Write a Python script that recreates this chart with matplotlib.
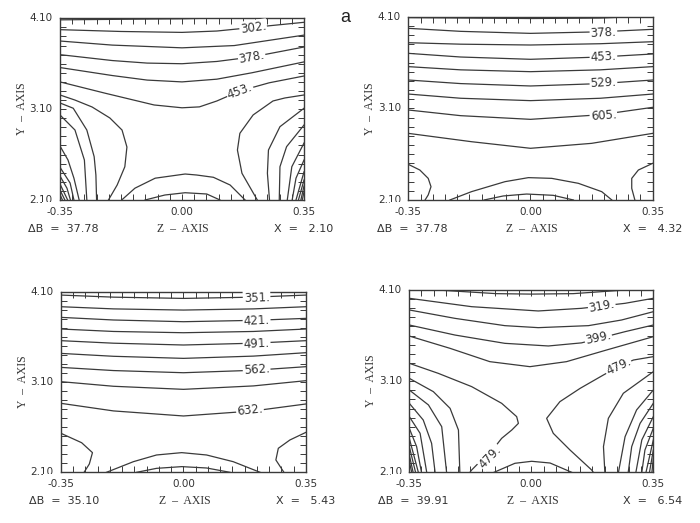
import matplotlib
matplotlib.use("Agg")
import matplotlib.pyplot as plt
from matplotlib.ticker import MultipleLocator

LINE = "#3a3a3a"
TEXT = "#333333"

# ---- panel a1 : X = 2.10, dB = 37.78 ----
p1_top = [
    [(-0.35, 4.083), (-0.15, 4.09), (0.0, 4.095), (0.06, 4.10)],
    [(-0.35, 3.975), (-0.175, 3.955), (0.0, 3.945), (0.1, 3.96), (0.204, 4.0), (0.35, 4.056)],
    [(-0.35, 3.85), (-0.2, 3.805), (0.0, 3.775), (0.15, 3.80), (0.35, 3.915)],
    [(-0.35, 3.70), (-0.2, 3.635), (-0.1, 3.607), (0.0, 3.60), (0.1, 3.625), (0.2, 3.674), (0.35, 3.784)],
    [(-0.35, 3.558), (-0.2, 3.47), (-0.1, 3.42), (0.0, 3.40), (0.1, 3.43), (0.2, 3.50), (0.35, 3.62)],
    [(-0.35, 3.40), (-0.22, 3.275), (-0.08, 3.146), (0.0, 3.115), (0.05, 3.125), (0.1, 3.19),
     (0.166, 3.30), (0.25, 3.39), (0.35, 3.465)],
]
p1_left = [
    [(-0.35, 3.256), (-0.307, 3.20), (-0.258, 3.124), (-0.207, 3.003), (-0.172, 2.87),
     (-0.158, 2.683), (-0.164, 2.466), (-0.186, 2.265), (-0.211, 2.10)],
    [(-0.35, 3.168), (-0.312, 3.11), (-0.273, 2.87), (-0.252, 2.577), (-0.247, 2.375), (-0.245, 2.10)],
    [(-0.35, 3.036), (-0.307, 2.87), (-0.280, 2.54), (-0.273, 2.10)],
    [(-0.35, 2.694), (-0.327, 2.54), (-0.310, 2.34), (-0.295, 2.10)],
    [(-0.35, 2.46), (-0.321, 2.287), (-0.310, 2.10)],
    [(-0.35, 2.364), (-0.330, 2.23), (-0.320, 2.10)],
    [(-0.35, 2.276), (-0.328, 2.10)],
    [(-0.35, 2.21), (-0.336, 2.10)],
    [(-0.35, 2.16), (-0.343, 2.10)],
]
p1_right = [
    [(0.35, 3.256), (0.295, 3.223), (0.261, 3.19), (0.204, 3.036), (0.166, 2.834),
     (0.159, 2.65), (0.172, 2.394), (0.216, 2.10)],
    [(0.35, 3.11), (0.281, 2.907), (0.248, 2.65), (0.245, 2.394), (0.251, 2.10)],
    [(0.35, 2.925), (0.300, 2.687), (0.281, 2.466), (0.279, 2.10)],
    [(0.35, 2.727), (0.315, 2.466), (0.302, 2.10)],
    [(0.35, 2.54), (0.327, 2.34), (0.316, 2.10)],
    [(0.35, 2.41), (0.327, 2.10)],
    [(0.35, 2.32), (0.334, 2.10)],
    [(0.35, 2.254), (0.341, 2.10)],
    [(0.35, 2.19), (0.345, 2.10)],
]
p1_bottom = [
    [(-0.173, 2.10), (-0.135, 2.23), (-0.077, 2.34), (0.009, 2.386), (0.042, 2.375),
     (0.090, 2.35), (0.138, 2.265), (0.181, 2.10)],
    [(-0.106, 2.10), (-0.049, 2.155), (0.009, 2.18), (0.071, 2.166), (0.109, 2.10)],
]
p1_labels = [("302.", 0.204, 4.00, 8), ("378.", 0.20, 3.674, 10), ("453.", 0.166, 3.30, 20)]

# ---- panel a2 : X = 4.32, dB = 37.78 ----
p2_top = [
    [(-0.35, 4.09), (0.0, 4.08), (0.2, 4.085), (0.3, 4.10)],
    [(-0.35, 3.973), (-0.2, 3.94), (0.0, 3.918), (0.2, 3.935), (0.35, 3.962)],
    [(-0.35, 3.816), (-0.2, 3.80), (0.0, 3.791), (0.2, 3.805), (0.35, 3.827)],
    [(-0.35, 3.70), (-0.2, 3.66), (0.0, 3.635), (0.2, 3.66), (0.35, 3.693)],
    [(-0.35, 3.555), (-0.2, 3.52), (0.0, 3.50), (0.2, 3.52), (0.35, 3.555)],
    [(-0.35, 3.409), (-0.2, 3.37), (0.0, 3.344), (0.2, 3.37), (0.35, 3.409)],
    [(-0.35, 3.256), (-0.2, 3.21), (0.0, 3.184), (0.2, 3.21), (0.35, 3.256)],
    [(-0.35, 3.082), (-0.2, 3.02), (0.0, 2.98), (0.2, 3.03), (0.35, 3.111)],
    [(-0.35, 2.827), (-0.169, 2.736), (0.0, 2.664), (0.175, 2.718), (0.35, 2.827)],
]
p2_left = [
    [(-0.35, 2.489), (-0.317, 2.427), (-0.293, 2.336), (-0.285, 2.245), (-0.293, 2.155), (-0.302, 2.10)],
]
p2_right = [
    [(0.35, 2.50), (0.309, 2.427), (0.290, 2.336), (0.290, 2.227), (0.299, 2.10)],
]
p2_bottom = [
    [(-0.231, 2.10), (-0.169, 2.191), (-0.073, 2.30), (-0.006, 2.344), (0.061, 2.336),
     (0.137, 2.282), (0.204, 2.191), (0.233, 2.10)],
    [(-0.133, 2.10), (-0.078, 2.144), (-0.011, 2.165), (0.065, 2.151), (0.123, 2.10)],
]
p2_labels = [("378.", 0.209, 3.929, 3), ("453.", 0.209, 3.66, 3),
             ("529.", 0.209, 3.373, 3), ("605.", 0.209, 3.02, 4)]

# ---- panel a3 : X = 5.43, dB = 35.10 ----
p3_top = [
    [(-0.35, 4.063), (-0.2, 4.04), (0.0, 4.026), (0.2, 4.04), (0.35, 4.063)],
    [(-0.35, 3.934), (-0.2, 3.91), (0.0, 3.897), (0.2, 3.91), (0.35, 3.934)],
    [(-0.35, 3.816), (-0.2, 3.787), (0.0, 3.768), (0.2, 3.783), (0.35, 3.805)],
    [(-0.35, 3.687), (-0.2, 3.66), (0.0, 3.646), (0.2, 3.66), (0.35, 3.687)],
    [(-0.35, 3.558), (-0.2, 3.53), (0.0, 3.51), (0.2, 3.53), (0.35, 3.558)],
    [(-0.35, 3.417), (-0.2, 3.385), (0.0, 3.362), (0.2, 3.387), (0.35, 3.425)],
    [(-0.35, 3.262), (-0.2, 3.227), (0.0, 3.203), (0.2, 3.23), (0.35, 3.27)],
    [(-0.35, 3.104), (-0.2, 3.053), (0.0, 3.019), (0.2, 3.057), (0.35, 3.115)],
    [(-0.35, 2.864), (-0.2, 2.78), (0.0, 2.724), (0.2, 2.78), (0.35, 2.857)],
]
p3_left = [
    [(-0.35, 2.532), (-0.291, 2.428), (-0.26, 2.318), (-0.269, 2.192), (-0.284, 2.10)],
]
p3_right = [
    [(0.35, 2.543), (0.304, 2.458), (0.271, 2.366), (0.264, 2.237), (0.287, 2.10)],
]
p3_bottom = [
    [(-0.22, 2.10), (-0.143, 2.218), (-0.077, 2.292), (-0.005, 2.318), (0.066, 2.292),
     (0.142, 2.218), (0.219, 2.10)],
    [(-0.134, 2.10), (-0.077, 2.144), (-0.005, 2.163), (0.066, 2.148), (0.133, 2.10)],
]
p3_labels = [("351.", 0.209, 4.034, 2), ("421.", 0.209, 3.778, 3), ("491.", 0.209, 3.525, 3),
             ("562.", 0.209, 3.235, 4), ("632.", 0.19, 2.783, 6)]

# ---- panel a4 : X = 6.54, dB = 39.91 ----
p4_top = [
    [(-0.27, 4.10), (-0.1, 4.06), (0.0, 4.055), (0.12, 4.06), (0.27, 4.10)],
    [(-0.35, 4.009), (-0.171, 3.917), (0.02, 3.87), (0.144, 3.899), (0.269, 3.954), (0.35, 4.009)],
    [(-0.35, 3.881), (-0.219, 3.789), (-0.076, 3.709), (0.02, 3.687), (0.164, 3.709),
     (0.259, 3.771), (0.35, 3.862)],
    [(-0.35, 3.716), (-0.219, 3.606), (-0.076, 3.515), (0.049, 3.486), (0.144, 3.52),
     (0.269, 3.643), (0.35, 3.716)],
    [(-0.35, 3.595), (-0.233, 3.46), (-0.119, 3.314), (-0.004, 3.259), (0.101, 3.314),
     (0.216, 3.442), (0.35, 3.588)],
    [(-0.35, 3.296), (-0.267, 3.186), (-0.171, 3.04), (-0.085, 2.857), (-0.042, 2.711),
     (-0.037, 2.637), (-0.056, 2.564), (-0.085, 2.473), (-0.10, 2.40), (-0.171, 2.126), (-0.176, 2.10)],
    [(0.35, 3.369), (0.293, 3.332), (0.25, 3.259), (0.207, 3.168), (0.14, 3.021), (0.082, 2.875),
     (0.044, 2.692), (0.063, 2.528), (0.111, 2.345), (0.173, 2.126), (0.178, 2.10)],
]
p4_left = [
    [(-0.35, 3.131), (-0.281, 2.985), (-0.233, 2.802), (-0.209, 2.564), (-0.205, 2.10)],
    [(-0.35, 3.003), (-0.295, 2.839), (-0.257, 2.601), (-0.243, 2.10)],
    [(-0.35, 2.857), (-0.31, 2.674), (-0.286, 2.418), (-0.276, 2.10)],
    [(-0.35, 2.711), (-0.319, 2.528), (-0.30, 2.10)],
    [(-0.35, 2.583), (-0.329, 2.382), (-0.315, 2.10)],
    [(-0.35, 2.473), (-0.324, 2.10)],
    [(-0.35, 2.382), (-0.332, 2.10)],
    [(-0.35, 2.29), (-0.339, 2.10)],
    [(-0.35, 2.217), (-0.343, 2.10)],
]
p4_right = [
    [(0.35, 3.204), (0.264, 2.967), (0.221, 2.692), (0.207, 2.382), (0.211, 2.10)],
    [(0.35, 3.003), (0.302, 2.784), (0.269, 2.491), (0.25, 2.10)],
    [(0.35, 2.857), (0.312, 2.637), (0.288, 2.382), (0.278, 2.10)],
    [(0.35, 2.711), (0.317, 2.455), (0.30, 2.10)],
    [(0.35, 2.583), (0.326, 2.345), (0.317, 2.10)],
    [(0.35, 2.455), (0.329, 2.10)],
    [(0.35, 2.345), (0.339, 2.10)],
    [(0.35, 2.254), (0.346, 2.10)],
]
p4_bottom = [
    [(-0.107, 2.10), (-0.047, 2.199), (0.001, 2.221), (0.054, 2.202), (0.116, 2.10)],
]
p4_labels = [("319.", 0.202, 3.925, 10), ("399.", 0.192, 3.575, 12),
             ("479.", 0.25, 3.259, 25), ("479.", -0.119, 2.272, 46)]

delta_b = ["37.78", "37.78", "35.10", "39.91"]
x_pos = ["2.10", "4.32", "5.43", "6.54"]

x_ticks = [-0.35, 0.0, 0.35]
x_tick_labels = ["-0.35", "0.00", "0.35"]
y_ticks = [2.10, 3.10, 4.10]
y_tick_labels = ["2.10", "3.10", "4.10"]

# axes rectangles in figure fraction (left, bottom, width, height)
rects = [
    (0.0857, 0.6176, 0.3486, 0.3474),
    (0.5833, 0.6176, 0.3491, 0.3505),
    (0.0871, 0.0969, 0.3500, 0.3453),
    (0.5847, 0.0969, 0.3486, 0.3486),
]


def draw_panel(ax, families, labels, db, xval):
    for fam in families:
        for line in fam:
            zs, ys = zip(*line)
            ax.plot(zs, ys, color=LINE, lw=0.9)
    for txt, z, y, rot in labels:
        ax.text(z, y, txt, rotation=rot, rotation_mode="anchor", ha="center", va="center",
                fontsize=8.5, color=TEXT, family="DejaVu Sans",
                bbox=dict(facecolor="white", edgecolor="none", pad=0.6))

    ax.set_xlim(-0.35, 0.35)
    ax.set_ylim(2.10, 4.10)
    ax.set_xticks(x_ticks)
    ax.set_yticks(y_ticks)
    ax.xaxis.set_minor_locator(MultipleLocator(0.035))
    ax.yaxis.set_minor_locator(MultipleLocator(0.1))
    ax.tick_params(which="both", direction="in", top=True, right=True,
                   length=4, width=0.7, color=LINE, labelbottom=False, labelleft=False)
    for sp in ax.spines.values():
        sp.set_color(LINE)
        sp.set_linewidth(1.0)

    yt = ax.get_yaxis_transform()
    for v, s in zip(y_ticks, y_tick_labels):
        ax.text(-0.03, v, s, transform=yt, ha="right", va="center",
                fontsize=7.5, color=TEXT)

    ax.text(-0.13, -0.16, "\u0394B  =  " + db, transform=ax.transAxes, ha="left",
            va="center", fontsize=8, color=TEXT)
    ax.text(0.505, -0.16, "Z  \u2013  AXIS", transform=ax.transAxes, ha="center",
            va="center", fontsize=8.5, color=TEXT, family="Liberation Serif")
    ax.text(1.12, -0.16, "X  =   " + xval, transform=ax.transAxes, ha="right",
            va="center", fontsize=8, color=TEXT)
    ax.text(-0.155, 0.5, "Y  \u2013  AXIS", transform=ax.transAxes, ha="center",
            va="center", rotation=90, fontsize=8.5, color=TEXT, family="Liberation Serif")


fig = plt.figure(figsize=(7.0, 5.23), dpi=100)

panel_lines = [
    [p1_top, p1_left, p1_right, p1_bottom],
    [p2_top, p2_left, p2_right, p2_bottom],
    [p3_top, p3_left, p3_right, p3_bottom],
    [p4_top, p4_left, p4_right, p4_bottom],
]
panel_labels = [p1_labels, p2_labels, p3_labels, p4_labels]

axes = []
for i in range(4):
    ax = fig.add_axes(rects[i])
    draw_panel(ax, panel_lines[i], panel_labels[i], delta_b[i], x_pos[i])
    axes.append(ax)

# x tick labels placed last, at figure level, on top of everything else
for ax in axes:
    bb = ax.get_position()
    for v, s in zip(x_ticks, x_tick_labels):
        fx = bb.x0 + (v + 0.35) / 0.70 * bb.width
        fig.text(fx, bb.y0 - 0.065 * bb.height, s, ha="center", va="center",
                 fontsize=7.5, color=TEXT, zorder=20,
                 bbox=dict(facecolor="white", edgecolor="none", pad=3.5))

fig.text(0.493, 0.966, "a", fontsize=13, color="#222222", ha="center", va="center",
         family="Liberation Sans")

fig.savefig("out.png", dpi=100, facecolor="white")
